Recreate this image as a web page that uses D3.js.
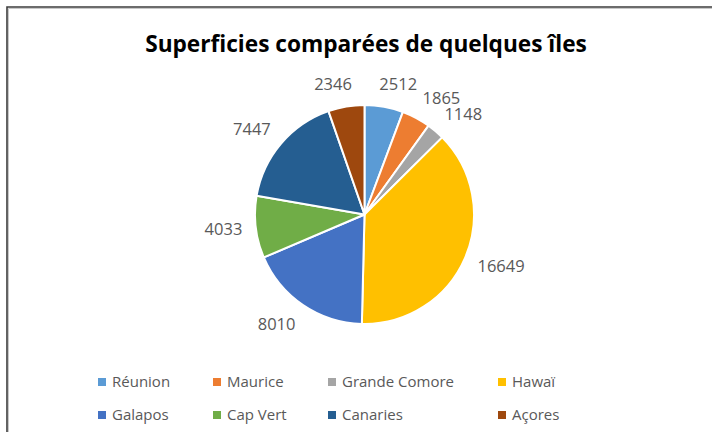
<!DOCTYPE html>
<html><head><meta charset="utf-8">
<script src="https://cdn.jsdelivr.net/npm/d3@7"></script>
<style>html,body{margin:0;padding:0;background:#fff;}svg{display:block;}</style>
</head><body>
<svg id="c" width="712" height="432"></svg>
<script>
const title = "Superficies comparées de quelques îles";
const islands = ["Réunion","Maurice","Grande Comore","Hawaï","Galapos","Cap Vert","Canaries","Açores"];
const areas = [2512,1865,1148,16649,8010,4033,7447,2346];
const colors = ["#5B9BD5","#ED7D31","#A5A5A5","#FFC000","#4472C4","#70AD47","#255E91","#9E480E"];

const svg = d3.select("#c");
const W = 712, H = 432;
svg.append("rect").attr("width",W).attr("height",H).attr("fill","#fff");

// frame
svg.append("path").attr("d",`M8.5,${H} V8.5 H${W}`).attr("fill","none").attr("stroke","#c8c8c8").attr("stroke-width",1);
svg.append("path").attr("d",`M7,${H} V7 H${W}`).attr("fill","none").attr("stroke","#3c3c3c").attr("stroke-width",1.6);

// title
const t = svg.append("text").attr("x",366).attr("y",52).attr("text-anchor","middle")
  .attr("font-family","'Open Sans', sans-serif").attr("font-weight","bold").attr("font-size",20)
  .attr("fill","#000").text(title);
const tw = t.node().getComputedTextLength();
t.attr("font-size", 20*442/tw);

// pie
const cx = 364.5, cy = 214.5, r = 109.5;
const data = islands.map((n,i)=>({name:n, value:areas[i], color:colors[i]}));
const pie = d3.pie().value(d=>d.value).sort(null);
const arcs = pie(data);
const arc = d3.arc().innerRadius(0).outerRadius(r);
const g = svg.append("g").attr("transform",`translate(${cx},${cy})`);
g.selectAll("path").data(arcs).join("path")
  .attr("d",arc).attr("fill",d=>d.data.color)
  .attr("stroke","#fff").attr("stroke-width",2).attr("stroke-linejoin","round");

// labels (outside end)
const R = r + 13.5;
g.selectAll("text.lbl").data(arcs).join("text").attr("class","lbl")
  .attr("font-family","'Open Sans', sans-serif").attr("font-size",16.5).attr("fill","#595959")
  .attr("text-anchor","middle").attr("dy","0.35em")
  .text(d=>d.data.value)
  .each(function(d){
    const a = (d.startAngle+d.endAngle)/2;
    const s = Math.sin(a), c = Math.cos(a);
    const hw = this.getComputedTextLength()/2;
    const fx = Math.max(-1, Math.min(1, s*3.5));
    const x = s*R + hw*fx;
    const y = -c*R - 9*c;
    d3.select(this).attr("x",x).attr("y",y);
  });

// legend
const colX = [98,213,328,498];
const rowY = [382,415];
const lg = svg.append("g");
data.forEach((d,i)=>{
  const x = colX[i%4], y = rowY[Math.floor(i/4)];
  lg.append("rect").attr("x",x).attr("y",y-4).attr("width",8).attr("height",8).attr("fill",d.color);
  lg.append("text").attr("x",x+14).attr("y",y).attr("dy","0.35em")
    .attr("font-family","'Open Sans', sans-serif").attr("font-size",15).attr("fill","#595959")
    .text(d.name);
});
</script>
</body></html>
